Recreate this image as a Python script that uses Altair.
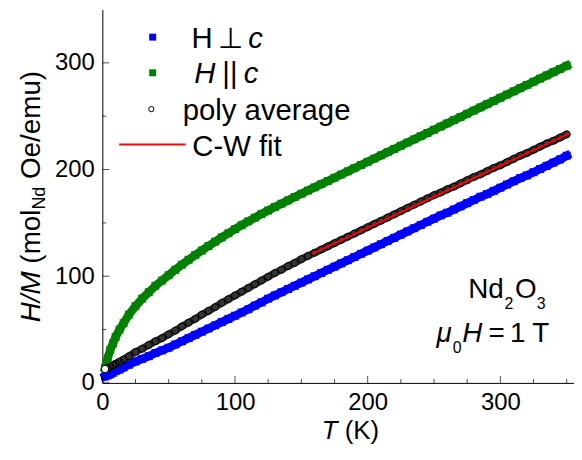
import altair as alt
import pandas as pd

# ---------------- data ----------------
T = [2, 4, 6, 8, 10, 13, 16, 20, 25, 30, 35, 40, 45, 50, 55, 60, 65, 70, 75, 80,
     85, 90, 95, 100, 105, 110, 115, 120, 125, 130, 135, 140, 145, 150, 155, 160,
     165, 170, 175, 180, 185, 190, 195, 200, 205, 210, 215, 220, 225, 230, 235,
     240, 245, 250, 255, 260, 265, 270, 275, 280, 285, 290, 295, 300, 305, 310,
     315, 320, 325, 330, 335, 340, 345, 350]

HM_perp = [6, 7, 8, 9.5, 11, 12.5, 14.5, 17, 20, 22.5, 25, 28, 30.5, 33, 36, 39,
           42, 45, 48, 51, 54, 57, 60, 63, 66, 69, 72.5, 75.5, 79, 82, 85, 88, 91,
           94, 97, 100, 103, 106, 109, 112, 115, 118, 121, 124, 127, 130, 133, 136,
           139, 142, 145, 148, 151, 154, 157, 159.5, 162.5, 165.5, 168.5, 171.5,
           174.5, 177, 180, 183, 186, 189, 192, 194.5, 197.5, 200.5, 203.5, 206.5,
           209.5, 213]

HM_par = [14, 23, 31, 37, 43, 50, 56, 64, 72, 79, 85, 91, 96, 101, 106, 110.8,
          115.4, 119.8, 124.1, 128.3, 132.4, 136.4, 140.3, 144.1, 147.8, 151.4,
          154.9, 158.3, 161.6, 164.8, 168, 171.1, 174.2, 177.3, 180.3, 183.3, 186.3,
          189.3, 192.3, 195.3, 198.3, 201.3, 204.3, 207.3, 210.3, 213.3, 216.3,
          219.3, 222.3, 225.3, 228.3, 231.3, 234.3, 237.3, 240.3, 243.3, 246.3,
          249.3, 252.3, 255.3, 258.3, 261.3, 264.3, 267.3, 270.3, 273.3, 276.3,
          279.3, 282.3, 285.3, 288.3, 291.3, 294.3, 297.3]

HM_poly = [13, 14, 15, 16.5, 18, 20, 22, 25, 29, 32, 35.5, 39, 42, 45.5, 49, 53,
           56.5, 60, 64, 67.5, 71, 75, 78.5, 82, 85.5, 89, 92.5, 96, 99.5, 103, 106,
           109.5, 112.5, 116, 119, 122, 125, 128, 131, 134, 137, 140, 143, 146, 149,
           152, 155, 158, 161, 164, 167, 170, 173, 176, 178.5, 181.5, 184, 187, 190,
           193, 195.5, 198.5, 201.5, 204, 207, 210, 213, 215.5, 218.5, 221.5, 224.5,
           227, 230, 233]

T_fit = [158, 352]
HM_fit = [121, 234]

x_major = [0, 100, 200, 300]
x_minor = [25, 50, 75, 125, 150, 175, 225, 250, 275, 325, 350]
y_major = [0, 100, 200, 300]
y_minor = [50, 150, 250]

# ---------------- layout / style ----------------
FONT = "Liberation Sans"
BLUE = "#0000FF"
GREEN = "#008000"
RED = "#FF0000"
W, H = 475, 376
OX, OY = 103, 8  # page position of the plot origin

xscale = alt.Scale(domain=[0, 355.5], nice=False, zero=False)
yscale = alt.Scale(domain=[0, 350], nice=False, zero=False)
common_axis = dict(title=None, ticks=False, tickSize=0, grid=False,
                   labelFontSize=24, labelFont=FONT, labelColor="black",
                   domainColor="black", domainWidth=1, labelFlush=False,
                   labelOverlap=False)
X = alt.X("T:Q", scale=xscale, axis=alt.Axis(values=x_major, labelPadding=8, **common_axis))
Y = alt.Y("HM:Q", scale=yscale, axis=alt.Axis(values=y_major, labelPadding=8, **common_axis))

df_perp = pd.DataFrame({"T": T, "HM": HM_perp})
df_par = pd.DataFrame({"T": T, "HM": HM_par})
df_poly = pd.DataFrame({"T": T, "HM": HM_poly})
df_fit = pd.DataFrame({"T": T_fit, "HM": HM_fit})

layers = []
for df, col in [(df_perp, BLUE), (df_par, GREEN)]:
    base = alt.Chart(df)
    layers.append(base.mark_line(color=col, strokeWidth=8.5, strokeCap="square").encode(x=X, y=Y))
    layers.append(base.mark_point(shape="square", filled=True, color=col, opacity=1, size=64).encode(x=X, y=Y))

pb = alt.Chart(df_poly)
layers.append(pb.mark_line(color="#333333", strokeWidth=7.5, strokeCap="round").encode(x=X, y=Y))
layers.append(pb.mark_point(shape="circle", filled=False, color="black", strokeWidth=1,
                            size=50, opacity=1).encode(x=X, y=Y))
first = pd.DataFrame({"T": T[:1], "HM": HM_poly[:1]})
layers.append(alt.Chart(first).mark_point(shape="circle", filled=True, fill="white", stroke="black",
                                          strokeWidth=1, size=55, opacity=1).encode(x=X, y=Y))
layers.append(alt.Chart(df_fit).mark_line(color=RED, strokeWidth=2).encode(x=X, y=Y))

# inward ticks
layers.append(alt.Chart(pd.DataFrame({"T": x_major})).mark_tick(
    orient="vertical", size=7, thickness=1, color="black").encode(x=X, y=alt.value(H - 3.5)))
layers.append(alt.Chart(pd.DataFrame({"T": x_minor})).mark_tick(
    orient="vertical", size=4, thickness=1, color="black").encode(x=X, y=alt.value(H - 2)))
layers.append(alt.Chart(pd.DataFrame({"HM": y_major})).mark_tick(
    orient="horizontal", size=7, thickness=1, color="black").encode(y=Y, x=alt.value(3.5)))
layers.append(alt.Chart(pd.DataFrame({"HM": y_minor})).mark_tick(
    orient="horizontal", size=4, thickness=1, color="black").encode(y=Y, x=alt.value(2)))

dummy = pd.DataFrame({"d": [0]})


def txt(s, px, py, size=28, italic=False, angle=0, align="left"):
    kw = dict(text=s, font=FONT, fontSize=size, color="black",
              align=align, baseline="alphabetic")
    if italic:
        kw["fontStyle"] = "italic"
    if angle:
        kw["angle"] = angle
    return alt.Chart(dummy).mark_text(**kw).encode(x=alt.value(px - OX), y=alt.value(py - OY))


LF = 29.5  # legend font size
# legend
layers.append(alt.Chart(dummy).mark_point(shape="square", filled=True, color=BLUE, opacity=1, size=49)
              .encode(x=alt.value(153.7 - OX), y=alt.value(35.8 - OY)))
layers.append(txt("H", 192.8, 46.7, size=LF))
layers.append(txt("\u22a5", 232.5, 46.7, size=LF, align="center"))
layers.append(txt("c", 250, 46.7, size=LF, italic=True))

layers.append(alt.Chart(dummy).mark_point(shape="square", filled=True, color=GREEN, opacity=1, size=49)
              .encode(x=alt.value(153.7 - OX), y=alt.value(71.7 - OY)))
layers.append(txt("H", 195.5, 81.7, size=LF, italic=True))
layers.append(txt("||", 231.5, 81.7, size=LF, align="center"))
layers.append(txt("c", 245.5, 81.7, size=LF, italic=True))

layers.append(alt.Chart(dummy).mark_point(shape="circle", filled=True, fill="white", stroke="black",
                                          strokeWidth=1, opacity=1, size=28)
              .encode(x=alt.value(152.3 - OX), y=alt.value(108.3 - OY)))
layers.append(txt("poly average", 184, 119, size=LF))

layers.append(alt.Chart(dummy).mark_rule(color=RED, strokeWidth=2)
              .encode(x=alt.value(120 - OX), x2=alt.value(186.7 - OX), y=alt.value(144 - OY)))
layers.append(txt("C-W fit", 193.6, 155, size=LF))

# annotation
layers.append(txt("Nd", 471.5, 299))
layers.append(txt("2", 508, 310, size=16))
layers.append(txt("O", 518.5, 299))
layers.append(txt("3", 540.5, 310, size=16))
layers.append(txt("\u03bc", 439.5, 343, italic=True))
layers.append(txt("0", 456, 354, size=16))
layers.append(txt("H", 465.5, 343, italic=True))
layers.append(txt("=", 492, 343))
layers.append(txt("1", 513.5, 343))
layers.append(txt("T", 536, 343))

# x axis title
XF = 26
layers.append(txt("T", 324, 440, size=XF, italic=True))
layers.append(txt("(K)", 324 + (0.611 + 0.278) * XF, 440, size=XF))

# y axis title (rotated, pieces stacked upward)
TF = 28
bx = 40
ys = 323
layers.append(txt("H/M", bx, ys, size=TF, italic=True, angle=270))
ys -= (1.833 + 0.278) * TF
layers.append(txt("(mol", bx, ys, size=TF, angle=270))
ys -= 1.944 * TF
layers.append(txt("Nd", bx + 5, ys, size=18, angle=270))
ys -= 1.278 * 18 + 0.278 * TF
layers.append(txt("Oe/emu)", bx, ys, size=TF, angle=270))

chart = alt.layer(*layers).properties(
    width=W, height=H,
    autosize=alt.AutoSizeParams(type="none"),
    padding={"left": OX - 8, "top": 0, "right": 0, "bottom": 61},
).configure_view(stroke=None)

chart.save("out.html", embed_options={"renderer": "svg", "actions": False})
